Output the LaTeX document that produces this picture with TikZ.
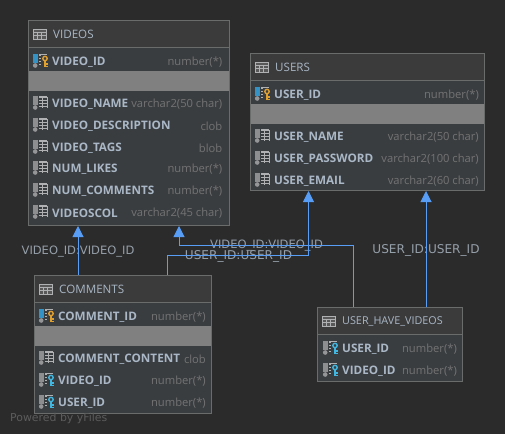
\documentclass[tikz,border=0pt]{standalone}
\usepackage{fontspec}
\setmainfont{Open Sans}
\newfontfamily\labelfont{DejaVu Sans}
\usetikzlibrary{arrows.meta,calc}
\definecolor{bg}{HTML}{2B2B2B}
\definecolor{headfill}{HTML}{3C3B3B}
\definecolor{rowfill}{HTML}{3A3D40}
\definecolor{bandfill}{HTML}{808080}
\definecolor{boxline}{HTML}{6A6C6C}
\definecolor{nametext}{HTML}{A9B7C6}
\definecolor{typetext}{HTML}{737373}
\definecolor{edgetext}{HTML}{96A0AA}
\definecolor{edgeblue}{HTML}{589DF6}
\definecolor{iconwhite}{HTML}{AFB1B3}
\definecolor{pkblue}{HTML}{3592C4}
\definecolor{gold}{HTML}{E0A030}
\definecolor{fkblue}{HTML}{40B6E0}
\definecolor{wmark}{HTML}{5C5C5C}
\tikzset{
  tablebox/.style={draw=boxline,line width=1pt,fill=rowfill,inner sep=0pt,anchor=north west},
  titletext/.style={font=\fontsize{11.6}{13}\selectfont,text=nametext,anchor=west,inner sep=0pt},
  colname/.style={font=\bfseries\fontsize{11.7}{14}\selectfont,text=nametext,anchor=west,inner sep=0pt},
  coltype/.style={font=\fontsize{11.2}{14}\selectfont,text=typetext,anchor=east,inner sep=0pt},
  edgelabel/.style={font=\labelfont\fontsize{11.5}{13}\selectfont,text=edgetext,inner sep=0pt},
  userlabel/.style={font=\labelfont\fontsize{12.1}{13}\selectfont,text=edgetext,inner sep=0pt},
  fklink/.style={draw=edgeblue,line width=1pt,-{Triangle[length=11pt,width=11pt,fill=edgeblue]}},
}
\newcommand{\icontable}[2]{%
  \begin{scope}[shift={(#1,#2)}]
    \draw[iconwhite,line width=.8pt,fill=iconwhite!25!headfill] (0,-5) rectangle (13,5);
    \draw[iconwhite,line width=.8pt] (0,-2) -- (13,-2) (0,1.5) -- (13,1.5) (4.3,-2) -- (4.3,5) (8.7,-2) -- (8.7,5);
  \end{scope}}
\newcommand{\iconcol}[3]{%
  \begin{scope}[shift={(#1,#2)}]
    \fill[#3] (0,-7) rectangle (5,2);
    \fill[iconwhite!85!black] (2.2,4.5) circle (2.3);
    \fill[iconwhite] (6,-7) rectangle (14,-5.5);
    \draw[iconwhite,line width=.8pt] (6,-2.5) -- (14,-2.5) (6,.5) -- (14,.5) (6,3.5) -- (14,3.5) (9.5,-6) -- (9.5,4.5) (14,-6) -- (14,4.5);
  \end{scope}}
\newcommand{\iconkey}[3]{%
  \begin{scope}[shift={(#1,#2)}]
    \fill[rowfill] (8,-6) rectangle (16,7);
    \draw[#3,line width=1.4pt] (12,-2.5) circle (2.2);
    \draw[#3,line width=1.8pt] (12,0) -- (12,6);
    \draw[#3,line width=1.2pt] (12,3) -- (14.5,3) (12,5.5) -- (14.5,5.5);
  \end{scope}}
\newcommand{\pkrow}[6]{% id, icon x, y, name, type, right
  \iconcol{#2}{#3}{pkblue}\iconkey{#2}{#3}{gold}
  \node[colname] (#1n) at (#2+19,#3+1) {#4};
  \node[coltype] (#1t) at (#6,#3+1) {#5};}
\newcommand{\fkrow}[6]{%
  \iconcol{#2}{#3}{iconwhite!80!black}\iconkey{#2}{#3}{fkblue}
  \node[colname] (#1n) at (#2+19,#3+1) {#4};
  \node[coltype] (#1t) at (#6,#3+1) {#5};}
\newcommand{\plainrow}[6]{%
  \iconcol{#2}{#3}{iconwhite!80!black}
  \node[colname] (#1n) at (#2+19,#3+1) {#4};
  \node[coltype] (#1t) at (#6,#3+1) {#5};}
% name, x, y, w, h, header height, title
\newcommand{\dbtable}[7]{%
  \node[tablebox,minimum width=#4pt,minimum height=#5pt] (#1) at (#2,#3) {};
  \fill[headfill] (#2,#3) rectangle (#2+#4,#3+#6);
  \draw[boxline,line width=1pt] (#2,#3+#6) -- (#2+#4,#3+#6);
  \draw[boxline,line width=1pt] (#2,#3) rectangle (#2+#4,#3+#5);
  \icontable{#2+5}{#3+14}
  \node[titletext] (#1title) at (#2+25,#3+14) {#7};}
\newcommand{\greyband}[4]{\fill[bandfill] (#1+.5,#2) rectangle (#1+#3-.5,#2+#4);}
\begin{document}
\begin{tikzpicture}[x=1pt,y=-1pt]
\useasboundingbox (0,0) rectangle (505,434);
\fill[bg] (0,0) rectangle (505,434);

% VIDEOS
\dbtable{videos}{28}{20}{201}{205}{27}{VIDEOS}
\greyband{28}{71}{201}{20}
\pkrow{v1}{33}{61}{VIDEO\_ID}{number(*)}{222.5}
\plainrow{v2}{33}{103}{VIDEO\_NAME}{varchar2(50 char)}{222.5}
\plainrow{v3}{33}{125}{VIDEO\_DESCRIPTION}{clob}{222.5}
\plainrow{v4}{33}{147}{VIDEO\_TAGS}{blob}{222.5}
\plainrow{v5}{33}{168}{NUM\_LIKES}{number(*)}{222.5}
\plainrow{v6}{33}{190}{NUM\_COMMENTS}{number(*)}{222.5}
\plainrow{v7}{33}{212}{VIDEOSCOL}{varchar2(45 char)}{222.5}

% USERS
\dbtable{users}{250}{53}{234}{137}{27}{USERS}
\greyband{250}{104}{234}{20}
\pkrow{u1}{255}{94}{USER\_ID}{number(*)}{479}
\plainrow{u2}{255}{136}{USER\_NAME}{varchar2(50 char)}{479}
\plainrow{u3}{255}{158}{USER\_PASSWORD}{varchar2(100 char)}{479}
\plainrow{u4}{255}{180}{USER\_EMAIL}{varchar2(60 char)}{479}

% COMMENTS
\dbtable{comments}{34}{275}{177}{138}{27}{COMMENTS}
\greyband{34}{326}{177}{20}
\pkrow{c1}{39}{316}{COMMENT\_ID}{number(*)}{206}
\plainrow{c2}{39}{358}{COMMENT\_CONTENT}{clob}{206}
\fkrow{c3}{39}{380}{VIDEO\_ID}{number(*)}{206}
\fkrow{c4}{39}{402}{USER\_ID}{number(*)}{206}

% USER_HAVE_VIDEOS
\dbtable{uhv}{317}{307}{145}{74}{27}{\fontsize{10.8}{13}\selectfont USER\_HAVE\_VIDEOS}
\fkrow{h1}{323}{348}{USER\_ID}{number(*)}{457}
\fkrow{h2}{323}{370}{VIDEO\_ID}{number(*)}{457}

% edge labels (the connectors run over them)
\node[edgelabel] (l1) at (78,252) {VIDEO\_ID:VIDEO\_ID};
\node[edgelabel] (l2) at (266.5,246) {VIDEO\_ID:VIDEO\_ID};
\node[userlabel] (l3) at (238.5,256.5) {USER\_ID:USER\_ID};
\node[userlabel] (l4) at (426,250) {USER\_ID:USER\_ID};

% connectors
\coordinate (a1) at (167,255);
\coordinate (a2) at (308.5,255);
\coordinate (b1) at (353.5,245);
\coordinate (b2) at (179,245);
\draw[fklink] ([xshift=44pt]comments.north west) -- ([xshift=50pt]videos.south west);
\draw[fklink] ([xshift=133pt]comments.north west) -- (a1) -- (a2) -- (a2 |- users.south);
\draw[fklink] ([xshift=36.5pt]uhv.north west) -- (b1) -- (b2) -- (b2 |- videos.south);
\draw[fklink] ([xshift=109pt]uhv.north west) -- ([xshift=176pt]users.south west);

\node[font=\labelfont\fontsize{10.9}{12}\selectfont,text=wmark,inner sep=0pt,anchor=west] (wm) at (10,418.5) {Powered by yFiles};
\end{tikzpicture}
\end{document}
